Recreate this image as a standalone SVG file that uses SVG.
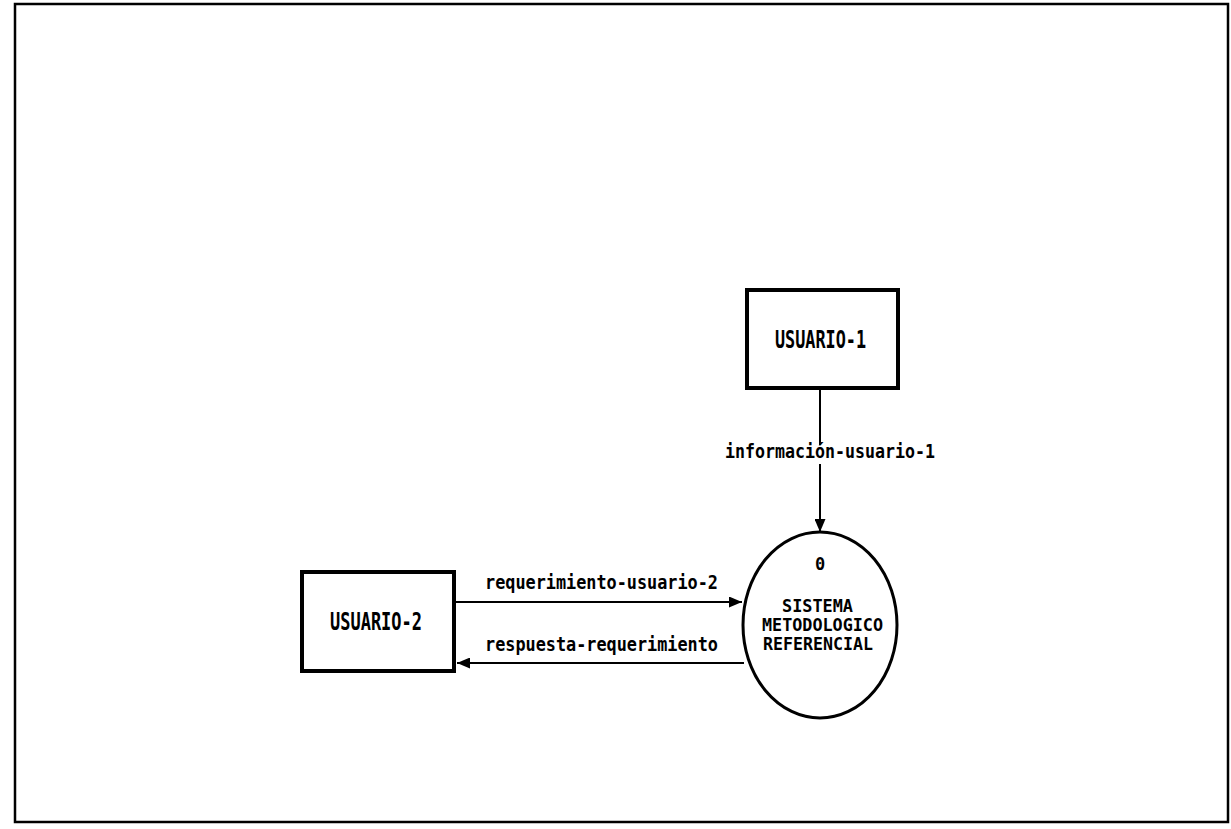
<svg xmlns="http://www.w3.org/2000/svg" width="1231" height="829" viewBox="0 0 1231 829">
<defs>
<style>
.frame{fill:none;stroke:#000;stroke-width:2.5}
.box{fill:#fff;stroke:#000;stroke-width:4}
.proc{fill:#fff;stroke:#000;stroke-width:3}
.flow{fill:none;stroke:#000;stroke-width:2}
.t{font-family:"DejaVu Sans Mono","Liberation Mono",monospace;font-weight:bold;fill:#000}
.big{font-size:25px}
.lbl{font-size:19px}
.mid{font-size:17px}
</style>
<marker id="ah" viewBox="0 0 13 11" refX="13" refY="5.5" markerWidth="13" markerHeight="11" markerUnits="userSpaceOnUse" orient="auto">
<path d="M0,0 L13,5.5 L0,11 Z" fill="#000"/>
</marker>
</defs>
<rect class="frame" x="15" y="4" width="1213" height="818"/>
<g id="connectors">
<line class="flow" x1="820" y1="389" x2="820" y2="445"/>
<line class="flow" x1="820" y1="464" x2="820" y2="532" marker-end="url(#ah)"/>
<line class="flow" x1="455" y1="602" x2="742" y2="602" marker-end="url(#ah)"/>
<line class="flow" x1="744" y1="663" x2="457" y2="663" marker-end="url(#ah)"/>
<text class="t lbl" x="725" y="458" textLength="210" lengthAdjust="spacingAndGlyphs">información-usuario-1</text>
<text class="t lbl" x="485" y="589" textLength="233" lengthAdjust="spacingAndGlyphs">requerimiento-usuario-2</text>
<text class="t lbl" x="485" y="651" textLength="233" lengthAdjust="spacingAndGlyphs">respuesta-requerimiento</text>
</g>
<g id="usuario1">
<rect class="box" x="747" y="290" width="151" height="98"/>
<text class="t big" x="775" y="348" textLength="91" lengthAdjust="spacingAndGlyphs">USUARIO-1</text>
</g>
<g id="usuario2">
<rect class="box" x="302" y="572" width="152" height="99"/>
<text class="t big" x="330" y="630" textLength="92" lengthAdjust="spacingAndGlyphs">USUARIO-2</text>
</g>
<g id="sistema">
<ellipse class="proc" cx="820" cy="625" rx="77" ry="93"/>
<text class="t mid" x="820" y="570" text-anchor="middle" font-size="20">0</text>
<text class="t mid" x="782" y="612" textLength="71" lengthAdjust="spacingAndGlyphs">SISTEMA</text>
<text class="t mid" x="762" y="631" textLength="121" lengthAdjust="spacingAndGlyphs">METODOLOGICO</text>
<text class="t mid" x="763" y="650" textLength="110" lengthAdjust="spacingAndGlyphs">REFERENCIAL</text>
</g>
</svg>
